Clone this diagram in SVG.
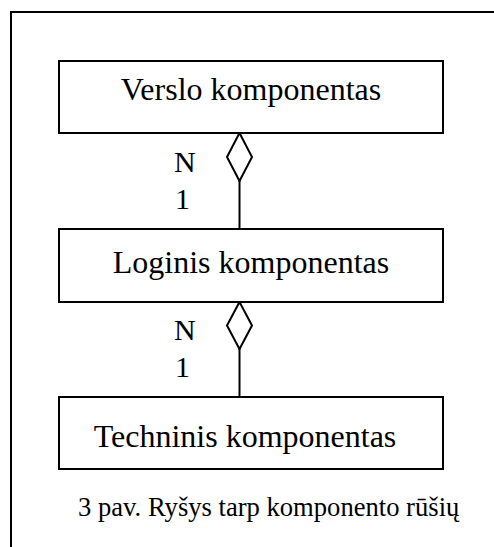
<svg xmlns="http://www.w3.org/2000/svg" width="494" height="547" viewBox="0 0 494 547">
  <style>
    .box { fill: #ffffff; stroke: #000000; stroke-width: 2; }
    .frame { fill: none; stroke: #000000; stroke-width: 2; }
    .link { fill: none; stroke: #000000; stroke-width: 2; }
    .diamond { fill: #ffffff; stroke: #000000; stroke-width: 2; stroke-linejoin: miter; }
    .label { font-family: "Liberation Serif", "Times New Roman", serif; fill: #000000; }
    .name { font-size: 32px; text-anchor: middle; }
    .mult { font-size: 30px; }
    .caption { font-size: 26.6px; }
  </style>
  <rect width="494" height="547" fill="#ffffff"/>
  <!-- outer frame (right and bottom edges run past the canvas) -->
  <rect class="frame" x="11" y="12" width="490" height="545"/>

  <!-- connectors: aggregation links with hollow diamonds -->
  <g id="connectors">
    <line class="link" x1="239.5" y1="181" x2="239.5" y2="229"/>
    <polygon class="diamond" points="239.5,133 252,157 239.5,181 227,157"/>
    <line class="link" x1="239.5" y1="349" x2="239.5" y2="397"/>
    <polygon class="diamond" points="239.5,302 252,325.5 239.5,349 227,325.5"/>
    <text class="label mult" x="174" y="172">N</text>
    <text class="label mult" x="175" y="209">1</text>
    <text class="label mult" x="174" y="340">N</text>
    <text class="label mult" x="175" y="377">1</text>
  </g>

  <g id="verslo">
    <rect class="box" x="59" y="61" width="384" height="72"/>
    <text class="label name" x="251" y="100">Verslo komponentas</text>
  </g>

  <g id="loginis">
    <rect class="box" x="59" y="229" width="384" height="73"/>
    <text class="label name" x="251" y="273">Loginis komponentas</text>
  </g>

  <g id="techninis">
    <rect class="box" x="59" y="397" width="384" height="72"/>
    <text class="label name" x="245" y="447">Techninis komponentas</text>
  </g>

  <text class="label caption" x="78" y="516">3 pav. Ryšys tarp komponento rūšių</text>
</svg>
